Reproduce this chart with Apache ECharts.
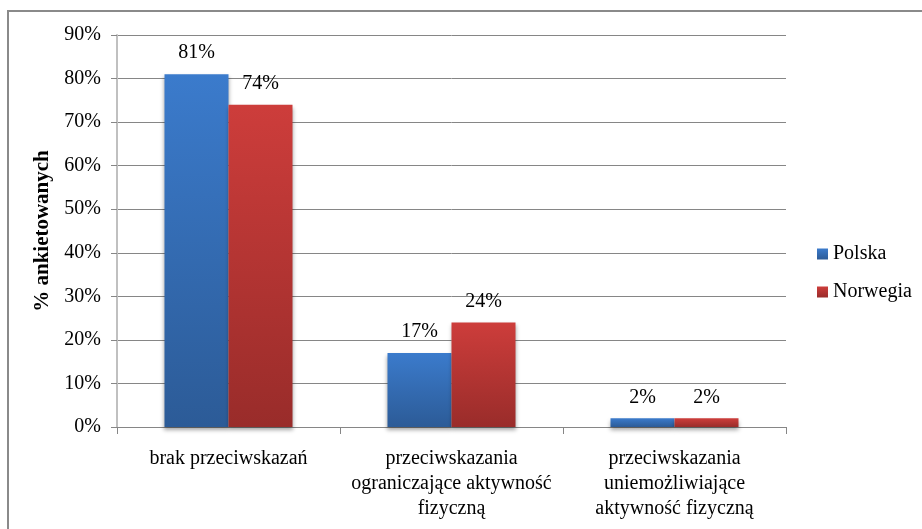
<!DOCTYPE html>
<html>
<head>
<meta charset="utf-8">
<script src="https://cdn.jsdelivr.net/npm/echarts@6/dist/echarts.min.js"></script>
<style>
  html, body { margin: 0; padding: 0; background: #fff; }
  #chart { width: 922px; height: 529px; }
</style>
</head>
<body>
<div id="chart"></div>
<script>
// Categories (x axis)
const categories = [
  'brak przeciwskazań',
  'przeciwskazania\nograniczające aktywność\nfizyczną',
  'przeciwskazania\nuniemożliwiające\naktywność fizyczną'
];
// Share of respondents, %
const polska = [81, 17, 2];
const norwegia = [74, 24, 2];
// Value axis ticks
const yMin = 0, yMax = 90, yStep = 10;

const serif = '"Liberation Serif", "Times New Roman", serif';

function grad(top, bottom) {
  return new echarts.graphic.LinearGradient(0, 0, 0, 1, [
    { offset: 0, color: top },
    { offset: 1, color: bottom }
  ]);
}

const labelCfg = {
  show: true,
  position: 'top',
  distance: 11,
  color: '#000',
  fontFamily: serif,
  fontSize: 20,
  formatter: p => Math.round(p.value) + '%'
};

const chart = echarts.init(document.getElementById('chart'), null, { renderer: 'canvas' });
chart.setOption({
  animation: false,
  backgroundColor: '#fff',
  textStyle: { fontFamily: serif, color: '#000' },
  graphic: [{
    type: 'rect',
    silent: true,
    shape: { x: 8, y: 11, width: 1000, height: 1000 },
    style: { fill: 'none', stroke: '#8a8a8a', lineWidth: 2 }
  }],
  grid: { left: 117, right: 136, top: 35, bottom: 102 },
  legend: {
    orient: 'vertical',
    left: 817,
    top: 244,
    padding: 0,
    itemWidth: 11,
    itemHeight: 11,
    itemGap: 18,
    icon: 'rect',
    textStyle: { fontFamily: serif, fontSize: 20, color: '#000' },
    data: ['Polska', 'Norwegia']
  },
  xAxis: {
    type: 'category',
    data: categories,
    axisLine: { lineStyle: { color: '#868686', width: 1 } },
    axisTick: { show: true, length: 7, lineStyle: { color: '#868686' } },
    axisLabel: {
      interval: 0,
      margin: 19,
      fontFamily: serif,
      fontSize: 20,
      lineHeight: 25,
      color: '#000'
    }
  },
  yAxis: {
    type: 'value',
    min: yMin,
    max: yMax,
    interval: yStep,
    name: '% ankietowanych',
    nameLocation: 'middle',
    nameGap: 59,
    nameTextStyle: { fontFamily: serif, fontSize: 21, fontWeight: 'bold', color: '#000' },
    axisLine: { show: true, lineStyle: { color: '#c0c0c0', width: 2 } },
    axisTick: { show: true, length: 6, lineStyle: { color: '#868686' } },
    axisLabel: {
      margin: 16,
      fontFamily: serif,
      fontSize: 20,
      color: '#000',
      formatter: '{value}%'
    },
    splitLine: { lineStyle: { color: '#868686', width: 1 } }
  },
  series: [
    {
      name: 'Polska',
      type: 'bar',
      data: polska,
      barGap: '0%',
      barCategoryGap: '42.6%',
      itemStyle: {
        color: grad('#3b7bcc', '#2c5b97'),
        shadowColor: 'rgba(0,0,0,0.35)',
        shadowBlur: 4,
        shadowOffsetY: 3
      },
      label: labelCfg
    },
    {
      name: 'Norwegia',
      type: 'bar',
      data: norwegia,
      barGap: '0%',
      barCategoryGap: '42.6%',
      itemStyle: {
        color: grad('#cd3d3b', '#992c2a'),
        shadowColor: 'rgba(0,0,0,0.35)',
        shadowBlur: 4,
        shadowOffsetY: 3
      },
      label: labelCfg
    }
  ]
});
</script>
</body>
</html>
